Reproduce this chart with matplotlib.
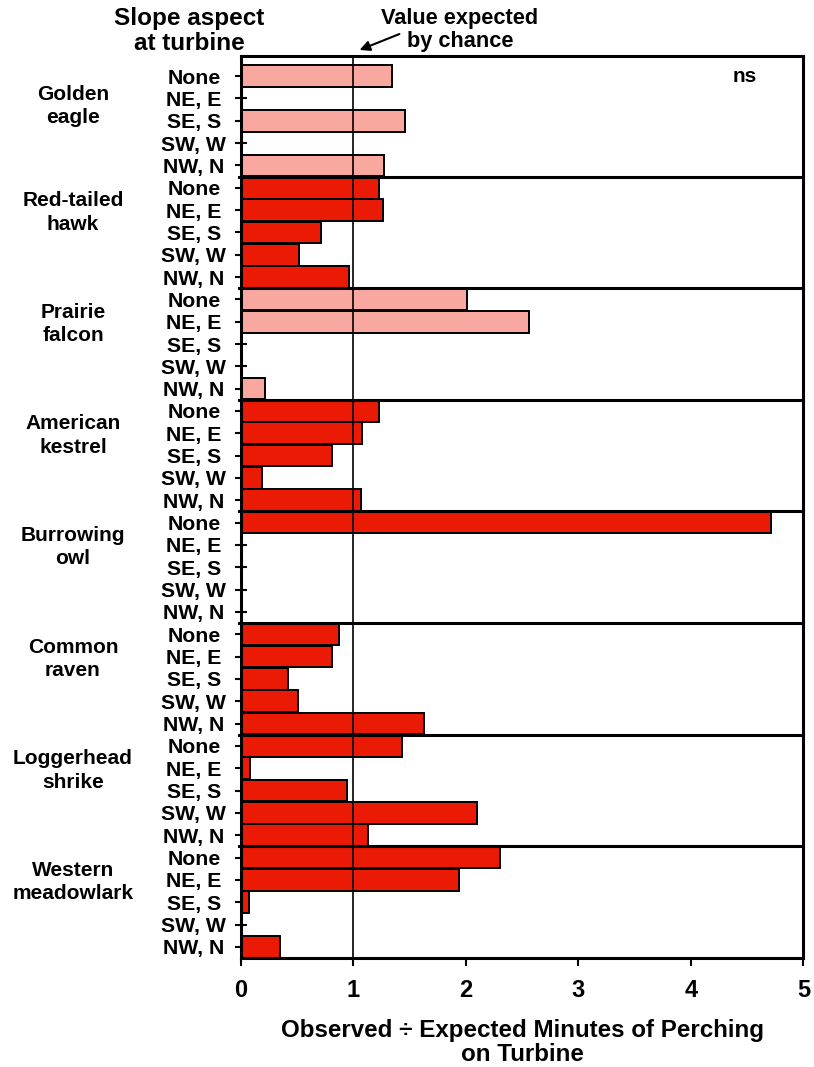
import matplotlib.pyplot as plt
import matplotlib.transforms as mtransforms
import numpy as np

plt.rcParams['font.family'] = ['Liberation Sans', 'DejaVu Sans']
plt.rcParams['font.weight'] = 'bold'

species = ["Golden\neagle", "Red-tailed\nhawk", "Prairie\nfalcon", "American\nkestrel",
           "Burrowing\nowl", "Common\nraven", "Loggerhead\nshrike", "Western\nmeadowlark"]
aspects = ["None", "NE, E", "SE, S", "SW, W", "NW, N"]

# observed / expected ratio, one list per species (order of aspects)
golden_eagle = [1.34, 0.0, 1.455, 0.0, 1.27]
red_tailed_hawk = [1.23, 1.265, 0.71, 0.52, 0.96]
prairie_falcon = [2.01, 2.56, 0.0, 0.0, 0.21]
american_kestrel = [1.23, 1.075, 0.81, 0.19, 1.07]
burrowing_owl = [4.71, 0.0, 0.0, 0.0, 0.0]
common_raven = [0.875, 0.81, 0.42, 0.51, 1.63]
loggerhead_shrike = [1.43, 0.08, 0.945, 2.095, 1.125]
western_meadowlark = [2.305, 1.935, 0.07, 0.0, 0.35]
significant = [False, True, False, True, True, True, True, True]

values = [golden_eagle, red_tailed_hawk, prairie_falcon, american_kestrel,
          burrowing_owl, common_raven, loggerhead_shrike, western_meadowlark]

RED = '#EA1A04'
PINK = '#F9A8A0'

fig = plt.figure(figsize=(8.14, 10.67), dpi=100)
ax = fig.add_axes([241/814, 1 - 958/1067, 562.5/814, 902/1067])

n = len(aspects)
ypos = []
ylabels = []
for i, vals in enumerate(values):
    y = np.arange(n) + i * n
    col = RED if significant[i] else PINK
    ax.barh(y, vals, height=0.97, color=col, edgecolor='black', linewidth=1.4, zorder=2)
    ypos.extend(y)
    ylabels.extend(aspects)

ax.set_xlim(0, 5)
ax.set_ylim(len(values) * n - 0.5, -0.9)

# panel separators
for i in range(1, len(values)):
    ax.plot([-0.02, 5], [i * n - 0.5] * 2, color='black', lw=2.2, zorder=4, clip_on=False)

ax.axvline(1, color='black', lw=1.2, zorder=3)

ax.set_yticks(ypos)
ax.set_yticklabels(ylabels, fontsize=15.3, fontweight='bold')
for lab in ax.get_yticklabels():
    lab.set_ha('center')
ax.tick_params(axis='y', direction='inout', length=8, width=1.5, pad=30)

ax.set_xticks(np.arange(0, 6))
ax.set_xticklabels([str(v) for v in range(6)], fontsize=17, fontweight='bold')
ax.tick_params(axis='x', direction='out', length=6, width=1.5, pad=9)

for s in ax.spines.values():
    s.set_linewidth(2.2)
    s.set_zorder(5)

ax.set_xlabel("Observed \u00f7 Expected Minutes of Perching\non Turbine",
              fontsize=17.4, fontweight='bold', labelpad=12, linespacing=1.1)

# species labels
trans = mtransforms.blended_transform_factory(fig.transFigure, ax.transData)
for i, name in enumerate(species):
    off = 1.35 if i == 0 else 1.1
    ax.text(73/814, i * n + off, name, transform=trans, ha='center', va='center',
            fontsize=15, fontweight='bold', linespacing=1.3)

fig.text(189/814, 1 - 31/1067, "Slope aspect\nat turbine", ha='center', va='center',
         fontsize=17.5, fontweight='bold', linespacing=1.15)
fig.text(460/814, 1 - 30/1067, "Value expected\nby chance", ha='center', va='center',
         fontsize=15.7, fontweight='bold', linespacing=1.1)
ax.annotate("", xy=(357/814, 1 - 51/1067), xytext=(402/814, 1 - 33/1067),
            xycoords='figure fraction', textcoords='figure fraction',
            arrowprops=dict(arrowstyle='-|>', color='black', lw=1.5, mutation_scale=15))

ax.text(4.48, 0.0, "ns", ha='center', va='center', fontsize=15, fontweight='bold')

plt.savefig("out.png", dpi=100)
